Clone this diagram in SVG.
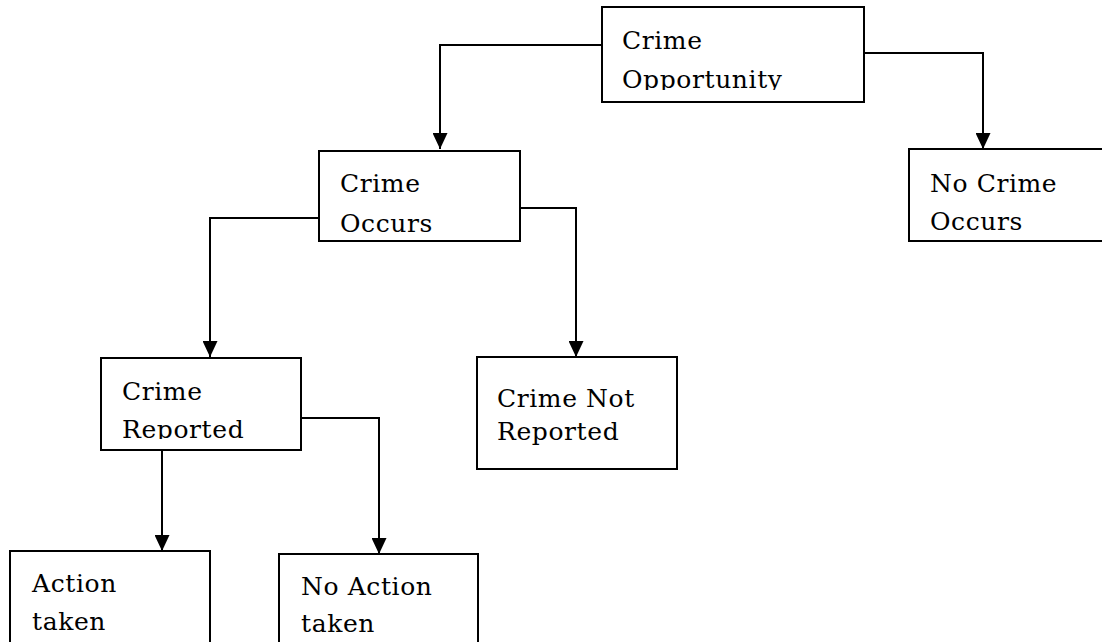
<svg xmlns="http://www.w3.org/2000/svg" width="1102" height="642" viewBox="0 0 1102 642">
<style>
.box{fill:#fff;stroke:#000;stroke-width:2}
.lbl{font-family:"DejaVu Serif","Liberation Serif",serif;font-size:25px;letter-spacing:0.6px;fill:#000}
.con{fill:none;stroke:#000;stroke-width:2}
</style>
<defs>
<marker id="arr" viewBox="0 0 16 15" refX="16" refY="7.5" markerWidth="16" markerHeight="15" markerUnits="userSpaceOnUse" orient="auto">
<path d="M0,0 L16,7.5 L0,15 z" fill="#000"/>
</marker>
<clipPath id="clipOpp"><rect x="600" y="0" width="270" height="90"/></clipPath>
<clipPath id="clipRep"><rect x="100" y="350" width="205" height="89"/></clipPath>
</defs>
<rect width="1102" height="642" fill="#fff"/>
<g id="connectors">
<polyline class="con" points="602,45 440,45 440,149" marker-end="url(#arr)"/>
<polyline class="con" points="864,53 983,53 983,149" marker-end="url(#arr)"/>
<polyline class="con" points="319,218 210,218 210,357" marker-end="url(#arr)"/>
<polyline class="con" points="517,208 576,208 576,357" marker-end="url(#arr)"/>
<polyline class="con" points="162,446 162,551" marker-end="url(#arr)"/>
<polyline class="con" points="299,418 379,418 379,554" marker-end="url(#arr)"/>
</g>
<g id="node-opportunity">
<rect class="box" x="602" y="7" width="262" height="95"/>
<text class="lbl" x="622" y="49">Crime</text>
<text class="lbl" x="622" y="88" clip-path="url(#clipOpp)">Opportunity</text>
</g>
<g id="node-occurs">
<rect class="box" x="319" y="151" width="201" height="90"/>
<text class="lbl" x="340" y="192">Crime</text>
<text class="lbl" x="340" y="232">Occurs</text>
</g>
<g id="node-no-crime">
<rect class="box" x="909" y="149" width="200" height="92"/>
<text class="lbl" x="930" y="192">No Crime</text>
<text class="lbl" x="930" y="230">Occurs</text>
</g>
<g id="node-reported">
<rect class="box" x="101" y="358" width="200" height="92"/>
<text class="lbl" x="122" y="400">Crime</text>
<text class="lbl" x="122" y="438" clip-path="url(#clipRep)">Reported</text>
</g>
<g id="node-not-reported">
<rect class="box" x="477" y="357" width="200" height="112"/>
<text class="lbl" x="497" y="407">Crime Not</text>
<text class="lbl" x="497" y="440">Reported</text>
</g>
<g id="node-action">
<rect class="box" x="10" y="551" width="200" height="100"/>
<text class="lbl" x="32" y="592">Action</text>
<text class="lbl" x="32" y="630">taken</text>
</g>
<g id="node-no-action">
<rect class="box" x="279" y="554" width="199" height="100"/>
<text class="lbl" x="301" y="595">No Action</text>
<text class="lbl" x="301" y="632">taken</text>
</g>
</svg>
